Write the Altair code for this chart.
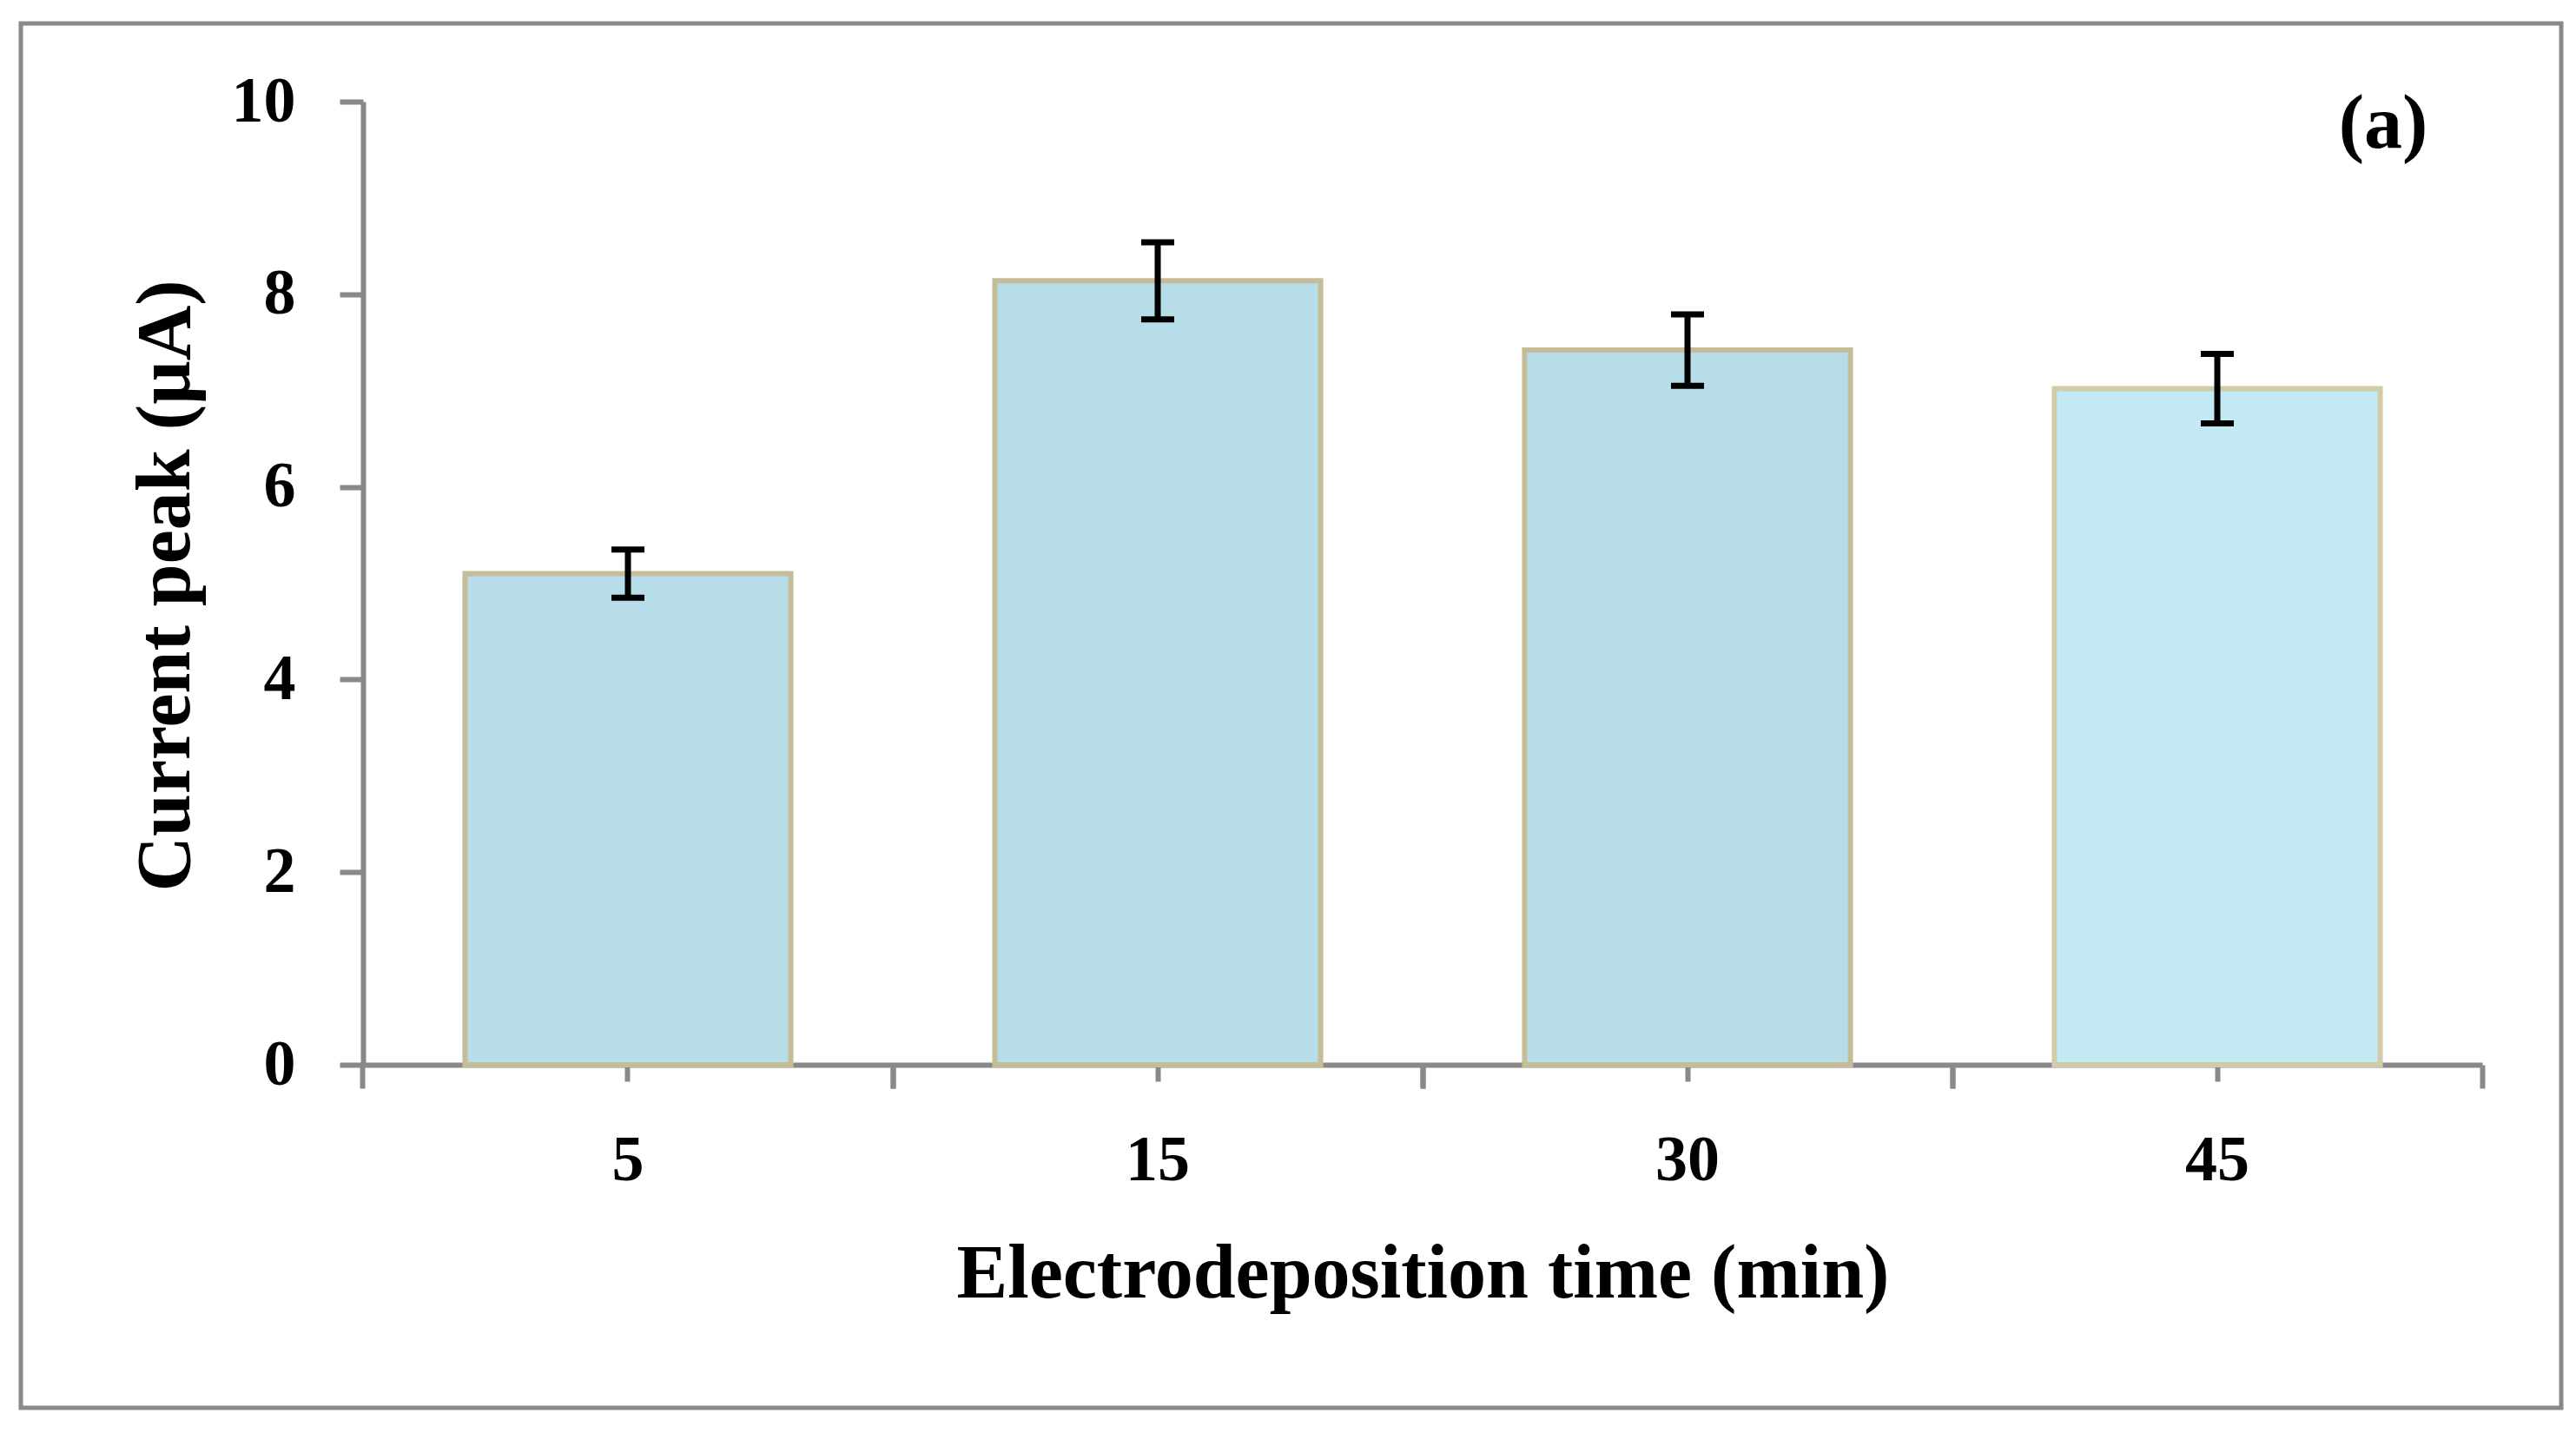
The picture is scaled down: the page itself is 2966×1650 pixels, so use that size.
import altair as alt
import pandas as pd

# ---- data ----
times = ["5", "15", "30", "45"]
current_peak = [5.10, 8.14, 7.42, 7.02]
error = [0.25, 0.40, 0.37, 0.36]
y_ticks = [0, 2, 4, 6, 8, 10]
x_title = "Electrodeposition time (min)"
y_title = "Current peak (µA)"
panel_label = ["(a)"]

df = pd.DataFrame({"time": times, "current": current_peak, "err": error})
df["lo"] = df["current"] - df["err"]
df["hi"] = df["current"] + df["err"]

W, H = 2440, 1109
GRAY = "#898989"
FONT = "Liberation Serif"
P_INNER = 0.385
# boundary ticks sit half a step either side of the band centre
EDGE = 0.5 / (1 - P_INNER)

xscale = alt.Scale(domain=times, paddingInner=P_INNER, paddingOuter=P_INNER / 2)
yscale = alt.Scale(domain=[0, 10], nice=False, zero=True)

frame = alt.Chart(pd.DataFrame({"f": [0]})).mark_rect(
    filled=False, stroke=GRAY, strokeWidth=5
).encode(
    x=alt.value(-394), x2=alt.value(2531), y=alt.value(-90), y2=alt.value(1504)
)

bars = alt.Chart(df).mark_bar(strokeWidth=6).encode(
    x=alt.X(
        "time:N", scale=xscale, sort=times,
        axis=alt.Axis(
            orient="bottom",
            title=x_title, bandPosition=0.5, tickSize=19, tickWidth=6,
            tickColor=GRAY, domainColor=GRAY, domainWidth=6,
            labelFont=FONT, labelFontSize=74, labelFontWeight="bold",
            labelColor="black", labelAngle=0, labelPadding=113,
            labelBaseline="alphabetic",
            titleFont=FONT, titleFontSize=88, titleFontWeight="bold",
            titleColor="black", titleBaseline="alphabetic",
            titleX=W / 2, titleY=267,
        ),
    ),
    y=alt.Y(
        "current:Q", scale=yscale,
        axis=alt.Axis(
            title=y_title, values=y_ticks, format="d", grid=False, tickSize=27,
            tickWidth=6, tickColor=GRAY, domainColor=GRAY, domainWidth=6,
            labelFont=FONT, labelFontSize=74, labelFontWeight="bold",
            labelColor="black", labelPadding=51,
            titleFont=FONT, titleFontSize=88, titleFontWeight="bold",
            titleColor="black", titleBaseline="alphabetic",
            titleX=-201, titleY=557, titleAngle=270,
        ),
    ),
    fill=alt.Fill(
        "time:N", legend=None,
        scale=alt.Scale(domain=times, range=["#B7DDE8", "#B7DDE8", "#B7DDE8", "#C3EAF4"]),
    ),
    stroke=alt.Stroke(
        "time:N", legend=None,
        scale=alt.Scale(domain=times, range=["#C4BD97", "#C4BD97", "#C4BD97", "#D2CBAA"]),
    ),
)

rules = alt.Chart(df).mark_rule(strokeWidth=7, color="black").encode(
    x=alt.X(
        "time:N", scale=xscale, sort=times,
        axis=alt.Axis(
            orient="bottom",
            bandPosition=0.5 - EDGE, labels=False, title=None, domain=False,
            tickSize=27, tickWidth=6, tickColor=GRAY,
        ),
    ),
    y=alt.Y("lo:Q", scale=yscale),
    y2="hi:Q",
)

cap_hi = alt.Chart(df).mark_tick(size=38, thickness=7, color="black", opacity=1).encode(
    x=alt.X("time:N", scale=xscale, sort=times, axis=None),
    y=alt.Y("hi:Q", scale=yscale),
)

cap_lo = alt.Chart(df).mark_tick(size=38, thickness=7, color="black", opacity=1).encode(
    x=alt.X(
        "time:N", scale=xscale, sort=times,
        axis=alt.Axis(
            orient="bottom",
            bandPosition=0.5 + EDGE, labels=False, title=None, domain=False,
            tickSize=27, tickWidth=6, tickColor=GRAY,
        ),
    ),
    y=alt.Y("lo:Q", scale=yscale),
)

label = alt.Chart(pd.DataFrame({"label": panel_label})).mark_text(
    font=FONT, fontSize=88, fontWeight="bold", align="center",
    baseline="alphabetic", color="black",
).encode(text="label:N", x=alt.value(2326), y=alt.value(53))

chart = alt.layer(frame, bars, rules, cap_hi, cap_lo, label).resolve_axis(
    x="independent"
).properties(
    width=W, height=H,
    padding={"left": 13, "top": 16, "right": 5, "bottom": 5},
    background="white",
).configure_view(stroke=None)

chart.save("out.html", embed_options={"renderer": "svg", "actions": False})
